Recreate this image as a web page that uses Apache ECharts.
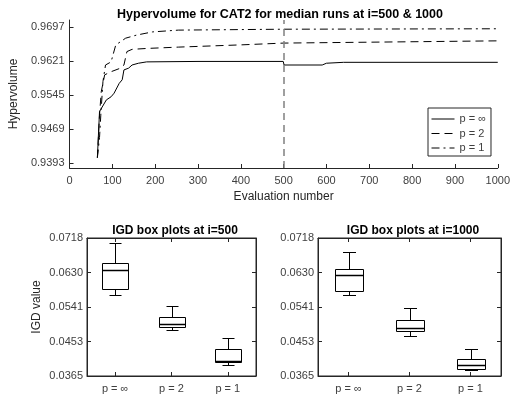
<!DOCTYPE html>
<html>
<head>
<meta charset="utf-8">
<script src="https://cdn.jsdelivr.net/npm/echarts@6/dist/echarts.min.js"></script>
<style>html,body{margin:0;padding:0;background:#fff}#c{width:513px;height:400px}</style>
</head>
<body>
<div id="c"></div>
<script>
// ---- Top plot data (hypervolume vs evaluation number) ----
const hvTickValues = [0.9393, 0.9469, 0.9545, 0.9621, 0.9697];
const evalInf = [65, 70, 74, 86, 97, 104, 116, 123, 127, 138, 146, 161, 180, 300, 499, 501, 590, 600, 640, 1000];
const hvInf   = [0.9405, 0.9508, 0.9511, 0.9534, 0.9541, 0.9549, 0.9571, 0.9579, 0.9601, 0.9605, 0.9612, 0.9616, 0.9619, 0.9620, 0.9620, 0.9612, 0.9612, 0.9616, 0.9618, 0.9618];
const evalTwo = [65, 70, 74, 82, 97, 119, 127, 134, 146, 180, 254, 400, 500, 700, 1000];
const hvTwo   = [0.9405, 0.9500, 0.9552, 0.9590, 0.9597, 0.9605, 0.9612, 0.9642, 0.9647, 0.9649, 0.9652, 0.9657, 0.9661, 0.9663, 0.9666];
const evalOne = [65, 70, 73, 78, 84, 97, 108, 119, 131, 157, 194, 254, 500, 1000];
const hvOne   = [0.9405, 0.9450, 0.9500, 0.9575, 0.9612, 0.9619, 0.9657, 0.9664, 0.9672, 0.9679, 0.9686, 0.9690, 0.9692, 0.9693];
const seriesNames = ['p = \u221e', 'p = 2', 'p = 1'];
const switchEval = 500;

// ---- Bottom plots data (IGD box plots) ----
const boxCats = ['p = \u221e', 'p = 2', 'p = 1'];
const igdTickValues = [0.0365, 0.045325, 0.05415, 0.062975, 0.0718];
const igdTickLabels = ['0.0365', '0.0453', '0.0541', '0.0630', '0.0718'];
const igd500Min    = [0.0573, 0.0482, 0.0394];
const igd500Q1     = [0.0588, 0.0491, 0.0400];
const igd500Median = [0.0635, 0.0499, 0.0403];
const igd500Q3     = [0.0655, 0.0517, 0.0433];
const igd500Max    = [0.0704, 0.0544, 0.0462];
const igd1000Min    = [0.0571, 0.0467, 0.0380];
const igd1000Q1     = [0.0582, 0.0481, 0.0384];
const igd1000Median = [0.0624, 0.0489, 0.0394];
const igd1000Q3     = [0.0638, 0.0509, 0.0409];
const igd1000Max    = [0.0682, 0.0538, 0.0435];

const zip = (a, b) => a.map((v, i) => [v, b[i]]);
const boxRows = (mn, q1, md, q3, mx) => mn.map((v, i) => [i, v, q1[i], md[i], q3[i], mx[i]]);

const AX = '#262626';
const TXT = '#404040';
const FONT = 'Liberation Sans, Arial, sans-serif';

function boxItem(params, api) {
  const c = api.value(0);
  const pLo = api.coord([c, api.value(1)]);
  const pQ1 = api.coord([c, api.value(2)]);
  const pMd = api.coord([c, api.value(3)]);
  const pQ3 = api.coord([c, api.value(4)]);
  const pHi = api.coord([c, api.value(5)]);
  const band = api.size([1, 0])[0];
  const bw = Math.round(band * 0.46);
  const cw = Math.round(bw * 0.45);
  const x = Math.round(pLo[0]) + 0.5;
  const r = v => Math.round(v) + 0.5;
  const st = { stroke: '#000', lineWidth: 1, fill: null };
  return {
    type: 'group',
    children: [
      { type: 'line', shape: { x1: x, y1: r(pHi[1]), x2: x, y2: r(pQ3[1]) }, style: st },
      { type: 'line', shape: { x1: x, y1: r(pQ1[1]), x2: x, y2: r(pLo[1]) }, style: st },
      { type: 'line', shape: { x1: x - cw / 2, y1: r(pHi[1]), x2: x + cw / 2, y2: r(pHi[1]) }, style: st },
      { type: 'line', shape: { x1: x - cw / 2, y1: r(pLo[1]), x2: x + cw / 2, y2: r(pLo[1]) }, style: st },
      { type: 'rect', shape: { x: x - bw / 2, y: r(pQ3[1]), width: bw, height: r(pQ1[1]) - r(pQ3[1]) }, style: { stroke: '#000', fill: 'none', lineWidth: 1 } },
      { type: 'line', shape: { x1: x - bw / 2, y1: r(pMd[1]), x2: x + bw / 2, y2: r(pMd[1]) }, style: { stroke: '#000', lineWidth: 1.5 } }
    ]
  };
}

function igdY(gridIndex, position, withLabels, name) {
  return {
    type: 'value', gridIndex, position, min: 0.0365, max: 0.0718,
    name: name || '', nameLocation: 'middle', nameGap: 44,
    nameTextStyle: { color: AX, fontSize: 12, fontFamily: FONT },
    axisLine: { show: true, lineStyle: { color: AX } },
    axisTick: { show: true, inside: true, length: 4, customValues: igdTickValues, lineStyle: { color: AX } },
    axisLabel: { show: withLabels, customValues: igdTickValues, margin: 4, color: TXT, fontSize: 11, fontFamily: FONT,
      formatter: v => { const i = igdTickValues.findIndex(t => Math.abs(t - v) < 1e-6); return i >= 0 ? igdTickLabels[i] : ''; } },
    splitLine: { show: false }
  };
}
function igdX(gridIndex, position, withLabels) {
  return {
    type: 'category', gridIndex, position, data: boxCats, boundaryGap: true,
    axisLine: { show: true, lineStyle: { color: AX } },
    axisTick: { show: true, inside: true, length: 4, alignWithLabel: true, lineStyle: { color: AX } },
    axisLabel: { show: withLabels, margin: 7, color: TXT, fontSize: 11, fontFamily: FONT },
    splitLine: { show: false }
  };
}

const lineStyles = [
  { color: '#000', width: 1, type: 'solid' },
  { color: '#000', width: 1, type: [8, 5] },
  { color: '#000', width: 1, type: [8, 4, 2, 4] }
];
const lineData = [zip(evalInf, hvInf), zip(evalTwo, hvTwo), zip(evalOne, hvOne)];

const option = {
  animation: false,
  backgroundColor: '#fff',
  textStyle: { fontFamily: FONT },
  title: [
    { text: 'Hypervolume for CAT2 for median runs at i=500 & 1000', left: 275, top: 3, textAlign: 'center',
      textStyle: { fontSize: 12.5, fontWeight: 'bold', color: '#000', fontFamily: FONT } },
    { text: 'IGD box plots at i=500', left: 170, top: 220, textAlign: 'center',
      textStyle: { fontSize: 12, fontWeight: 'bold', color: '#000', fontFamily: FONT } },
    { text: 'IGD box plots at i=1000', left: 408, top: 220, textAlign: 'center',
      textStyle: { fontSize: 12, fontWeight: 'bold', color: '#000', fontFamily: FONT } }
  ],
  legend: {
    orient: 'vertical', left: 428, top: 108, itemWidth: 23, itemHeight: 10, itemGap: 2.5,
    padding: [5, 5, 2, 3], borderColor: AX, borderWidth: 1, backgroundColor: '#fff',
    itemStyle: { opacity: 0, borderWidth: 0 },
    lineStyle: { width: 1 },
    textStyle: { color: TXT, fontSize: 11, lineHeight: 12, fontFamily: FONT },
    data: seriesNames
  },
  grid: [
    { left: 57, right: 12, top: 20, bottom: 232 },
    { left: 87, right: 257, top: 238, bottom: 24, show: true, borderColor: AX, borderWidth: 1 },
    { left: 318, right: 12, top: 238, bottom: 24, show: true, borderColor: AX, borderWidth: 1 }
  ],
  xAxis: [
    { type: 'value', gridIndex: 0, min: 0, max: 1000, interval: 100,
      name: 'Evaluation number', nameLocation: 'middle', nameGap: 23,
      nameTextStyle: { color: AX, fontSize: 12, fontFamily: FONT },
      axisLine: { show: true, onZero: false, lineStyle: { color: AX } },
      axisTick: { show: true, inside: true, length: 4, lineStyle: { color: AX } },
      axisLabel: { margin: 7, color: TXT, fontSize: 11, fontFamily: FONT, showMaxLabel: true, formatter: v => String(v) },
      splitLine: { show: false } },
    igdX(1, 'bottom', true),
    igdX(1, 'top', false),
    igdX(2, 'bottom', true),
    igdX(2, 'top', false)
  ],
  yAxis: [
    { type: 'value', gridIndex: 0, min: 0.93818, max: 0.97126,
      name: 'Hypervolume', nameLocation: 'middle', nameGap: 43,
      nameTextStyle: { color: AX, fontSize: 12, fontFamily: FONT },
      axisLine: { show: true, lineStyle: { color: AX } },
      axisTick: { show: true, inside: true, length: 4, customValues: hvTickValues, lineStyle: { color: AX } },
      axisLabel: { customValues: hvTickValues, margin: 5, color: TXT, fontSize: 11, fontFamily: FONT, formatter: v => v.toFixed(4) },
      splitLine: { show: false } },
    igdY(1, 'left', true, 'IGD value'),
    igdY(1, 'right', false),
    igdY(2, 'left', true),
    igdY(2, 'right', false)
  ],
  series: [
    ...seriesNames.map((n, i) => ({
      name: n, type: 'line', xAxisIndex: 0, yAxisIndex: 0, data: lineData[i],
      symbol: 'none', lineStyle: lineStyles[i], itemStyle: { color: '#000' }, silent: true,
      markLine: i === 0 ? {
        silent: true, symbol: 'none', label: { show: false },
        lineStyle: { color: '#808080', width: 1.5, type: [7, 5] },
        data: [{ xAxis: switchEval }]
      } : undefined
    })),
    { type: 'custom', xAxisIndex: 1, yAxisIndex: 1, renderItem: boxItem, silent: true,
      encode: { x: 0, y: [1, 2, 3, 4, 5] },
      data: boxRows(igd500Min, igd500Q1, igd500Median, igd500Q3, igd500Max) },
    { type: 'custom', xAxisIndex: 3, yAxisIndex: 3, renderItem: boxItem, silent: true,
      encode: { x: 0, y: [1, 2, 3, 4, 5] },
      data: boxRows(igd1000Min, igd1000Q1, igd1000Median, igd1000Q3, igd1000Max) }
  ]
};

const chart = echarts.init(document.getElementById('c'), null, { renderer: 'canvas' });
chart.setOption(option);
</script>
</body>
</html>
